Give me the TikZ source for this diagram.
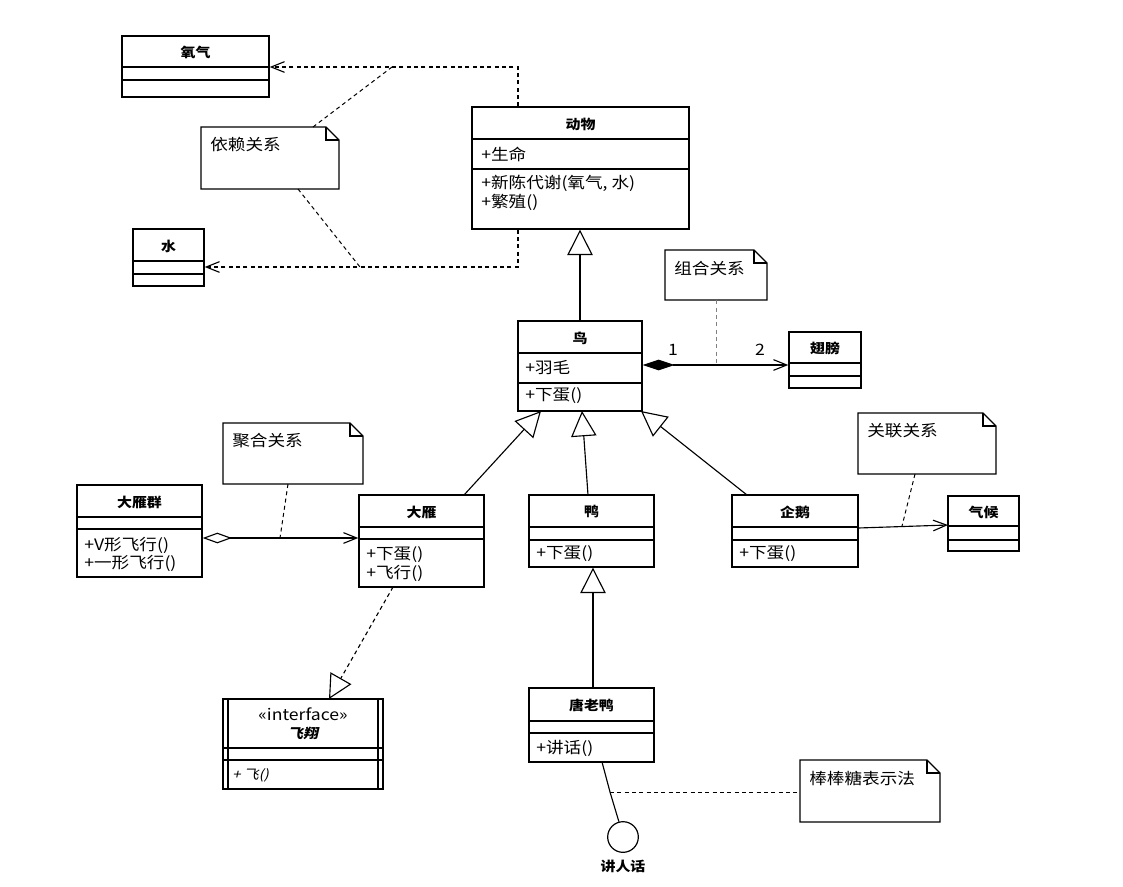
\documentclass[tikz,border=0pt]{standalone}
\usepackage{fontspec}
\setmainfont{Noto Sans CJK SC}[FakeStretch=1.12]
\newfontfamily\slfont{Noto Sans CJK SC}[FakeStretch=1.12, FakeSlant=0.22]
\usetikzlibrary{arrows.meta, fit, calc}
\tikzset{
  box/.style={draw, line width=1pt, inner sep=0pt},
  ttl/.style={font=\bfseries, inner sep=0pt},
  txt/.style={anchor=west, inner sep=0pt},
  conn/.style={line width=0.85pt},
  dashln/.style={conn, dash pattern=on 3pt off 2.5pt},
  notelink/.style={line width=0.75pt, dash pattern=on 3pt off 2.5pt},
  inh/.style={conn, -{Triangle[open, length=19pt, width=19pt]}},
  real/.style={dashln, -{Triangle[open, length=18pt, width=18pt]}},
  opentip/.style={-{Straight Barb[length=10pt, width=8pt]}},
}
\newcommand\umlclass[8]{%
  \node[box, fit={(#2,#3) (#4,#5)}] (#1) {};
  \draw[line width=1pt] (#2,#6) -- (#4,#6) (#2,#7) -- (#4,#7);
  \node[ttl] at ({(#2+#4)/2},{(#3+#6)/2+1}) {#8};
}
\newcommand\umlnote[6]{%
  \node[fit={(#2,#3) (#4,#5)}, inner sep=0pt] (#1) {};
  \draw[line width=0.9pt] (#2,#3) -- ({#4-13},#3) -- (#4,{#3+13}) -- (#4,#5) -- (#2,#5) -- cycle;
  \draw[line width=0.9pt] ({#4-13},#3) -- ({#4-13},{#3+13}) -- (#4,{#3+13});
  \node[txt] at ({#2+9},{#3+18}) {#6};
}
\begin{document}
\begin{tikzpicture}[x=0.75pt, y=-0.75pt, font=\fontsize{11.8}{14}\selectfont]
\useasboundingbox[fill=white] (0,0) rectangle (1123,886);

% classes
\umlclass{yangqi}{122}{36}{269}{97}{67}{80}{氧气}
\umlclass{shui}{133}{229}{204}{286}{261}{274}{水}
\umlclass{dongwu}{472}{107}{689}{229}{139}{169}{动物}
\node[txt] at (481,154) {+生命};
\node[txt] at (481,183) {+新陈代谢(氧气, 水)};
\node[txt] at (481,202) {+繁殖()};

\umlclass{niao}{518}{321}{642}{411}{353}{383}{鸟}
\node[txt] at (525,368) {+羽毛};
\node[txt] at (525,396) {+下蛋()};

\umlclass{chibang}{789}{332}{861}{388}{363}{376}{翅膀}

\umlclass{dayanqun}{77}{485}{202}{577}{517}{529}{大雁群}
\node[txt] at (84,545) {+V形飞行()};
\node[txt] at (84,563) {+一形飞行()};

\umlclass{dayan}{359}{495}{484}{587}{527}{539}{大雁}
\node[txt] at (366,555) {+下蛋()};
\node[txt] at (366,573) {+飞行()};

\umlclass{ya}{529}{495}{654}{567}{527}{540}{鸭}
\node[txt] at (536,554) {+下蛋()};

\umlclass{qie}{732}{495}{858}{567}{527}{540}{企鹅}
\node[txt] at (739,554) {+下蛋()};

\umlclass{qihou}{948}{496}{1019}{551}{526}{540}{气候}

\umlclass{tang}{529}{688}{654}{762}{721}{733}{唐老鸭}
\node[txt] at (536,748) {+讲话()};

% interface
\node[box, fit={(223,699) (383,789)}] (feixiang) {};
\draw[line width=1pt] (228,699) -- (228,789) (378,699) -- (378,789)
  (223,748) -- (383,748) (223,760) -- (383,760);
\node[inner sep=0pt] at (303,714) {«interface»};
\node[inner sep=0pt, font=\slfont\bfseries] at (303,733) {飞翔};
\node[txt, font=\slfont] at (232,775) {+ 飞()};

% notes
\umlnote{n1}{201}{127}{339}{189}{依赖关系}
\umlnote{n2}{665}{250}{767}{300}{组合关系}
\umlnote{n3}{223}{423}{363}{484}{聚合关系}
\umlnote{n4}{858}{413}{996}{474}{关联关系}
\umlnote{n5}{800}{760}{940}{822}{棒棒糖表示法}

% dependency
\coordinate (j1) at (518,67);
\coordinate (j2) at (518,267);
\draw[dashln, opentip] (dongwu.north -| j1) -- (j1) -- (yangqi.east |- j1);
\draw[dashln, opentip] (dongwu.south -| j2) -- (j2) -- (shui.east |- j2);
\coordinate (k1) at (392,67);
\coordinate (k2) at (360,267);
\coordinate (n1t) at (313,127);
\coordinate (n1b) at (298,189);
\draw[notelink] (n1t) -- (k1);
\draw[notelink] (n1b) -- (k2);

% generalisations
\draw[inh] (niao.north) -- (niao.north |- dongwu.south);
\coordinate (dyt) at (464,495);
\coordinate (nb1) at (541,411);
\draw[inh] (dyt) -- (nb1);
\coordinate (yat) at (588,495);
\coordinate (nb2) at (582,411);
\draw[inh] (yat) -- (nb2);
\coordinate (qt) at (747,495);
\coordinate (nb3) at (641,411);
\draw[inh] (qt) -- (nb3);
\coordinate (tt) at (593,688);
\draw[inh] (tt) -- (tt |- ya.south);

% composition
\coordinate (c1) at (716,365);
\draw[conn, {Diamond[length=24pt, width=8pt]}-{Straight Barb[length=10pt, width=8pt]}]
  (niao.east |- c1) -- (chibang.west |- c1);
\node[inner sep=0pt] (m1) at (673,350) {1};
\node[inner sep=0pt] (m2) at (760,350) {2};
\draw[notelink, gray] (n2.south) -- (n2.south |- c1);

% aggregation
\coordinate (a1) at (280,538);
\draw[conn, {Diamond[open, length=22pt, width=8pt]}-{Straight Barb[length=10pt, width=8pt]}]
  (dayanqun.east |- a1) -- (dayan.west |- a1);
\coordinate (n3b) at (288,484);
\draw[notelink] (n3b) -- (a1);

% association
\coordinate (qr) at (858,528);
\coordinate (hl) at (948,525);
\draw[conn, opentip] (qr) -- (hl);
\coordinate (n4b) at (915,474);
\coordinate (a2) at (902,526);
\draw[notelink] (n4b) -- (a2);

% realization
\coordinate (dyb) at (393,587);
\coordinate (fxt) at (329,699);
\draw[real] (dyb) -- (fxt);

% lollipop
\node[draw, circle, line width=0.9pt, minimum size=23pt, inner sep=0pt] (jiang) at (623,837) {};
\node[ttl] (jianglbl) at (623,866) {讲人话};
\coordinate (tb) at (602,762);
\coordinate (lp) at (610,792);
\draw[conn] (tb) -- (lp) -- (jiang.105);
\draw[notelink] (lp) -- (n5.west |- lp);
\end{tikzpicture}
\end{document}
